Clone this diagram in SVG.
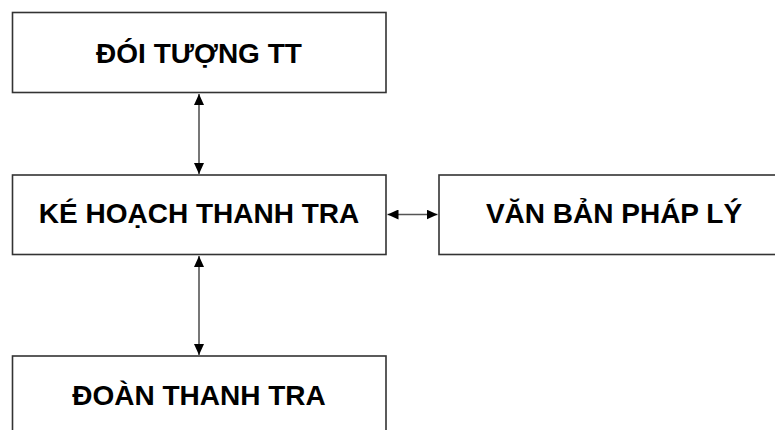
<svg xmlns="http://www.w3.org/2000/svg" width="775" height="430" viewBox="0 0 775 430">
<style>
.box{fill:#fff;stroke:#333;stroke-width:1.6}
.lbl{font-family:"Liberation Sans",Arial,sans-serif;font-weight:bold;font-size:28px;fill:#000;text-anchor:middle}
.con{stroke:#555;stroke-width:1.6;fill:none;marker-start:url(#ah);marker-end:url(#ah)}
</style>
<defs>
<marker id="ah" markerUnits="userSpaceOnUse" markerWidth="12" markerHeight="10" refX="11" refY="5" orient="auto-start-reverse">
<path d="M0,0 L11,5 L0,10 Z" fill="#000"/>
</marker>
</defs>
<rect width="775" height="430" fill="#fff"/>
<g id="connectors">
<line class="con" x1="199" y1="94" x2="199" y2="174"/>
<line class="con" x1="199" y1="256" x2="199" y2="355"/>
<line class="con" x1="387.5" y1="214.5" x2="437.5" y2="214.5"/>
</g>
<g id="doi-tuong">
<rect class="box" x="12.5" y="12.5" width="373.5" height="80"/>
<text class="lbl" x="199" y="63">ĐÓI TƯỢNG TT</text>
</g>
<g id="ke-hoach">
<rect class="box" x="12.5" y="175" width="373.5" height="79.5"/>
<text class="lbl" x="199" y="223">KÉ HOẠCH THANH TRA</text>
</g>
<g id="van-ban">
<rect class="box" x="439" y="175" width="345" height="79.5"/>
<text class="lbl" x="614" y="223">VĂN BẢN PHÁP LÝ</text>
</g>
<g id="doan">
<rect class="box" x="12.5" y="356" width="373.5" height="90"/>
<text class="lbl" x="199" y="405">ĐOÀN THANH TRA</text>
</g>
</svg>
